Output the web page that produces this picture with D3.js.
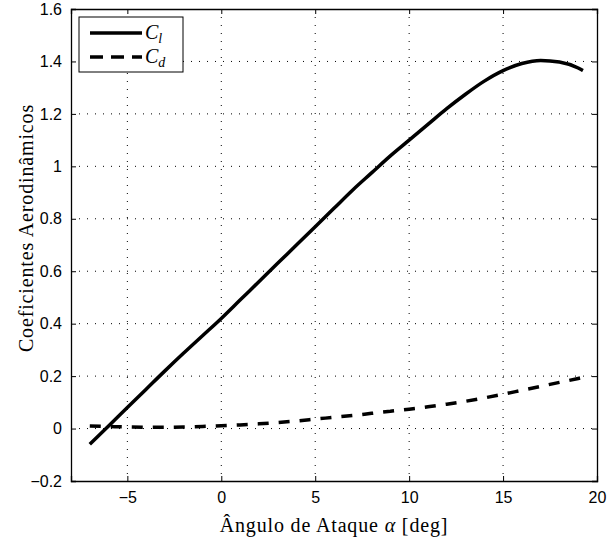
<!DOCTYPE html>
<html>

<head>
  <meta charset="utf-8">
  <script src="https://d3js.org/d3.v7.min.js"></script>
  <style>
    body { margin: 0; background: #fff; }
  </style>
</head>

<body>
  <div id="my_dataviz"></div>
  <script>
    // angle of attack (deg) and the two coefficients
    var alpha = [-7, -6, -5, -4, -3, -2, -1, 0, 1, 2, 3, 4, 5, 6, 7, 8, 9, 10,
      11, 12, 13, 14, 15, 16, 17, 18, 19, 19.25];
    var cl = [-0.06, 0.01, 0.08, 0.15, 0.22, 0.288, 0.354, 0.42, 0.49, 0.56, 0.63,
      0.70, 0.77, 0.84, 0.91, 0.975, 1.04, 1.10, 1.16, 1.22, 1.275, 1.325, 1.365,
      1.392, 1.404, 1.398, 1.375, 1.365];
    var cd = [0.010, 0.008, 0.006, 0.005, 0.005, 0.006, 0.008, 0.011, 0.014, 0.018,
      0.023, 0.029, 0.036, 0.043, 0.050, 0.058, 0.066, 0.074, 0.083, 0.093, 0.104,
      0.117, 0.131, 0.146, 0.161, 0.176, 0.191, 0.195];
    var xTicks = [-5, 0, 5, 10, 15, 20];
    var yTicks = [-0.2, 0, 0.2, 0.4, 0.6, 0.8, 1, 1.2, 1.4, 1.6];

    var margin = { top: 9, right: 10, bottom: 58, left: 71 },
      width = 607 - margin.left - margin.right,
      height = 539 - margin.top - margin.bottom;

    var svg = d3.select("#my_dataviz")
      .append("svg")
      .attr("width", 607)
      .attr("height", 539)
      .append("g")
      .attr("transform", "translate(" + margin.left + "," + margin.top + ")");

    var x = d3.scaleLinear().domain([-8, 20]).range([0, width]);
    var y = d3.scaleLinear().domain([-0.2, 1.6]).range([height, 0]);

    // grid
    svg.selectAll("vgrid")
      .data(xTicks.filter(function (d) { return d < 20; }))
      .enter().append("line")
      .attr("x1", function (d) { return x(d); })
      .attr("x2", function (d) { return x(d); })
      .attr("y1", 0).attr("y2", height)
      .attr("stroke", "black").attr("stroke-width", 1)
      .attr("stroke-dasharray", "1,7");
    svg.selectAll("hgrid")
      .data(yTicks.filter(function (d) { return d > -0.2 && d < 1.6; }))
      .enter().append("line")
      .attr("y1", function (d) { return y(d); })
      .attr("y2", function (d) { return y(d); })
      .attr("x1", 0).attr("x2", width)
      .attr("stroke", "black").attr("stroke-width", 1)
      .attr("stroke-dasharray", "1,7");

    // axes with inward ticks on all four sides
    var fmt = function (d) { return String(d).replace("-", "\u2212"); };
    var axBottom = svg.append("g")
      .attr("transform", "translate(0," + height + ")")
      .call(d3.axisBottom(x).tickValues(xTicks).tickSize(-5).tickPadding(11).tickFormat(fmt));
    var axLeft = svg.append("g")
      .call(d3.axisLeft(y).tickValues(yTicks).tickSize(-5).tickPadding(9).tickFormat(fmt));
    var axTop = svg.append("g")
      .call(d3.axisTop(x).tickValues(xTicks).tickSize(-5).tickFormat(""));
    var axRight = svg.append("g")
      .attr("transform", "translate(" + width + ",0)")
      .call(d3.axisRight(y).tickValues(yTicks).tickSize(-5).tickFormat(""));

    [axBottom, axLeft, axTop, axRight].forEach(function (g) {
      g.select(".domain").attr("stroke", "black").attr("stroke-width", 1.3);
      g.selectAll(".tick line").attr("stroke", "black").attr("stroke-width", 1);
      g.selectAll("text")
        .attr("fill", "black")
        .style("font-family", "'Liberation Sans', Arial, sans-serif")
        .style("font-size", "16px");
    });

    // curves
    var line = function (vals) {
      return d3.line()
        .x(function (d, i) { return x(alpha[i]); })
        .y(function (d) { return y(d); })
        .curve(d3.curveMonotoneX)(vals);
    };
    svg.append("path")
      .attr("d", line(cl))
      .attr("fill", "none").attr("stroke", "black").attr("stroke-width", 3.5);
    svg.append("path")
      .attr("d", line(cd))
      .attr("fill", "none").attr("stroke", "black").attr("stroke-width", 3.5)
      .attr("stroke-dasharray", "11,10");

    // legend
    var leg = svg.append("g").attr("transform", "translate(8,8)");
    leg.append("rect")
      .attr("width", 104).attr("height", 55)
      .attr("fill", "white").attr("stroke", "black").attr("stroke-width", 1);
    var names = [["C", "l"], ["C", "d"]];
    names.forEach(function (n, i) {
      var yy = 16 + i * 24;
      leg.append("line")
        .attr("x1", 11).attr("x2", 63).attr("y1", yy).attr("y2", yy)
        .attr("stroke", "black").attr("stroke-width", 3.5)
        .attr("stroke-dasharray", i === 1 ? "13,8" : null);
      var t = leg.append("text")
        .attr("x", 66).attr("y", yy + 6)
        .style("font-family", "'Liberation Serif', serif")
        .style("font-style", "italic")
        .style("font-size", "20px");
      t.append("tspan").text(n[0]);
      t.append("tspan").attr("dy", 4).style("font-size", "14px").text(n[1]);
    });

    // axis titles
    svg.append("text")
      .attr("x", width / 2).attr("y", height + 51)
      .attr("text-anchor", "middle")
      .style("font-family", "'Liberation Serif', serif")
      .style("font-size", "20px")
      .style("letter-spacing", "0.85px")
      .html("Ângulo de Ataque <tspan font-style='italic'>α</tspan> [deg]");
    svg.append("text")
      .attr("transform", "translate(" + (-38) + "," + 219 + ")rotate(-90)")
      .attr("text-anchor", "middle")
      .style("font-family", "'Liberation Serif', serif")
      .style("font-size", "20px")
      .style("letter-spacing", "0.85px")
      .text("Coeficientes Aerodinâmicos");
  </script>
</body>

</html>
